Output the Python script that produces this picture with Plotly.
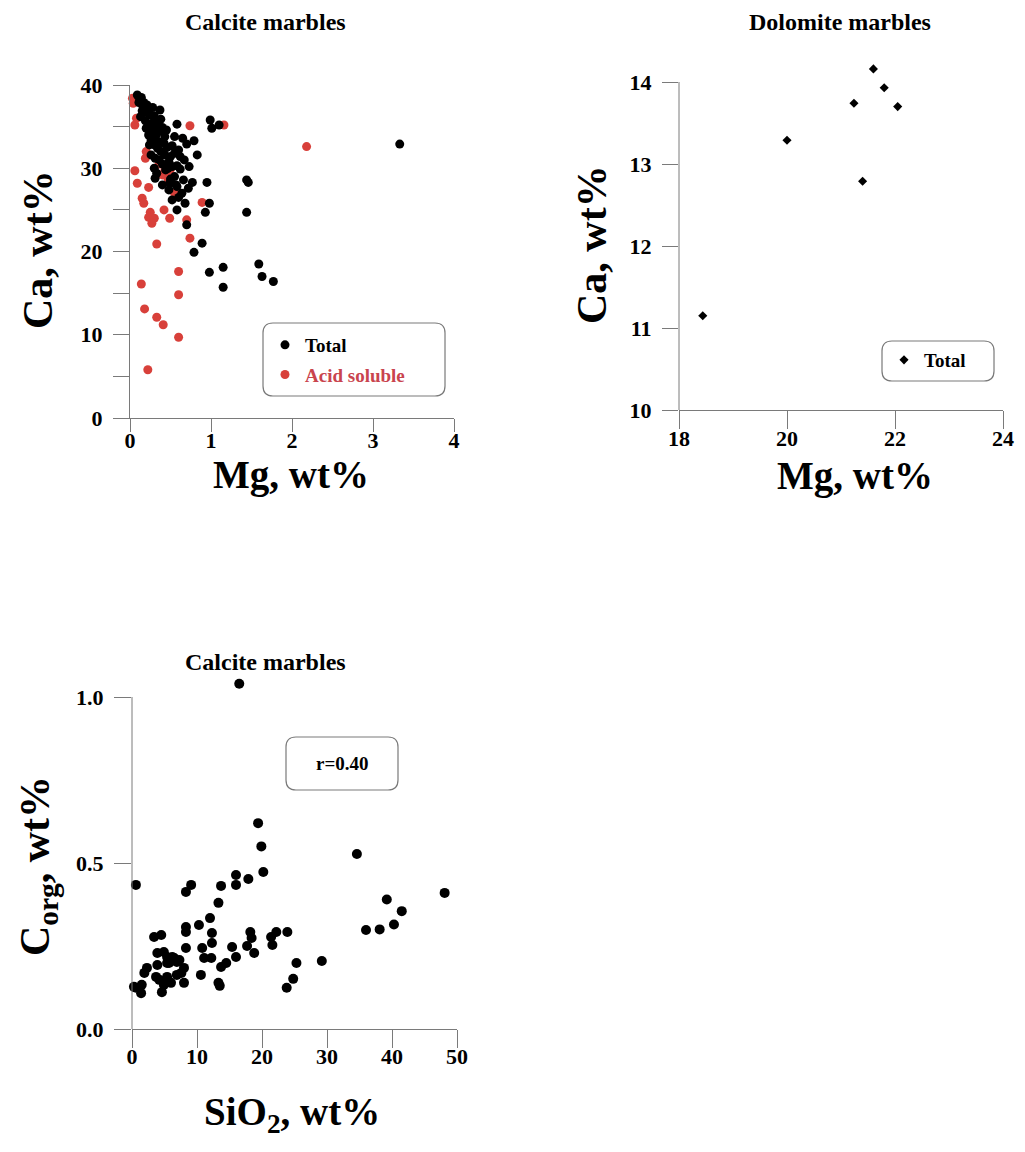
import plotly.graph_objects as go

W, H = 1025, 1152

# ---------------- data ----------------
calcite_total_mg = [0.09, 0.12, 0.14, 0.17, 0.21, 0.24, 0.37, 0.15, 0.20, 0.25, 0.30, 0.19, 0.30, 0.26, 0.35,
                    0.33, 0.58, 0.99, 1.01, 1.10, 0.36, 0.43, 0.23, 0.28, 0.40, 0.30, 0.35, 0.26, 0.79, 0.52,
                    0.46, 0.60, 0.83, 0.31, 0.43, 0.38, 0.50, 0.55, 0.67, 0.30, 0.73, 0.40, 0.48, 0.58, 0.62,
                    0.33, 0.55, 0.50, 0.31, 0.49, 0.77, 0.95, 0.64, 0.48, 0.58, 0.68, 0.52, 0.60, 0.98, 0.93,
                    0.70, 0.89, 0.79, 1.44, 1.46, 1.44, 0.98, 1.15, 1.15, 1.59, 1.63, 1.77, 3.33, 0.22, 0.27,
                    0.32, 0.45, 0.42, 0.36, 0.26, 0.44, 0.62, 0.70, 0.55, 0.38, 0.28, 0.16, 0.11, 0.47, 0.66,
                    0.58, 0.40, 0.72, 0.20, 0.13, 0.34, 0.52, 0.65, 0.24, 0.57]
calcite_total_ca = [38.8, 38.2, 38.5, 37.9, 37.6, 37.2, 37.0, 36.9, 36.7, 36.4, 36.3, 35.7, 35.7, 35.3, 35.6,
                    35.0, 35.3, 35.8, 34.8, 35.2, 34.4, 33.8, 34.0, 34.5, 34.9, 32.8, 33.2, 33.4, 33.3, 32.7,
                    32.5, 32.2, 31.6, 31.2, 31.6, 32.0, 31.4, 31.8, 31.0, 30.0, 30.2, 30.5, 30.8, 30.3, 29.9,
                    29.4, 29.0, 28.7, 28.8, 28.2, 28.3, 28.3, 27.0, 27.4, 27.8, 25.8, 26.2, 26.5, 25.8, 24.7,
                    23.2, 21.0, 19.9, 28.6, 28.3, 24.7, 17.5, 18.1, 15.7, 18.5, 17.0, 16.4, 32.9, 35.0, 34.0,
                    34.0, 34.6, 33.0, 31.0, 31.6, 29.8, 31.4, 32.9, 33.8, 35.9, 37.3, 37.4, 37.9, 30.0, 28.6,
                    25.0, 28.0, 27.6, 34.8, 36.2, 32.4, 30.2, 33.6, 32.8, 28.0]

calcite_acid_mg = [0.03, 0.04, 0.06, 0.08, 0.74, 1.16, 0.19, 0.06, 0.43, 0.46, 0.50, 0.40, 0.47, 0.36, 0.09,
                   0.23, 0.55, 0.15, 0.17, 0.25, 0.23, 0.30, 0.27, 0.42, 0.49, 0.74, 0.33, 0.70, 0.89, 0.60,
                   0.14, 0.60, 0.18, 0.33, 0.41, 0.60, 0.22, 2.18, 0.20]
calcite_acid_ca = [38.4, 37.8, 35.2, 36.0, 35.1, 35.2, 31.2, 29.7, 29.7, 29.4, 29.9, 29.2, 28.7, 30.5, 28.2,
                   27.7, 27.0, 26.4, 25.8, 24.7, 24.1, 24.0, 23.4, 25.0, 24.0, 21.6, 20.9, 23.8, 25.9, 17.6,
                   16.1, 14.8, 13.1, 12.1, 11.2, 9.7, 5.8, 32.6, 32.0]

dolomite_mg = [18.44, 20.0, 21.24, 21.4, 21.6, 21.8, 22.05]
dolomite_ca = [11.15, 13.29, 13.74, 12.79, 14.16, 13.93, 13.70]

sio2 = [16.5, 19.4, 19.9, 34.6, 20.2, 16.0, 17.9, 16.0, 13.7, 0.6, 9.1, 8.3, 48.1, 39.2, 13.3, 41.5, 12.0,
        40.3, 10.3, 8.3, 38.1, 36.0, 8.3, 12.3, 18.2, 22.2, 23.9, 18.4, 21.4, 4.5, 3.4, 12.3, 21.6, 17.7,
        15.4, 10.8, 8.3, 3.9, 4.9, 18.8, 6.2, 5.4, 16.0, 11.1, 12.2, 6.9, 7.3, 29.2, 5.4, 3.9, 14.5, 25.3,
        13.7, 2.3, 8.0, 1.9, 6.9, 10.6, 5.4, 4.2, 24.8, 4.9, 6.0, 8.0, 13.3, 13.5, 1.5, 0.3, 0.6, 23.8,
        4.6, 1.4, 7.6, 3.7, 5.7, 6.5]
corg = [1.04, 0.62, 0.55, 0.527, 0.473, 0.464, 0.452, 0.434, 0.431, 0.434, 0.434, 0.413, 0.41, 0.39, 0.38,
        0.355, 0.334, 0.315, 0.313, 0.307, 0.30, 0.298, 0.292, 0.289, 0.292, 0.292, 0.292, 0.274, 0.277,
        0.283, 0.277, 0.259, 0.253, 0.250, 0.247, 0.244, 0.244, 0.229, 0.232, 0.229, 0.217, 0.217, 0.217,
        0.214, 0.214, 0.202, 0.208, 0.205, 0.199, 0.193, 0.199, 0.199, 0.187, 0.184, 0.184, 0.169, 0.163,
        0.163, 0.157, 0.148, 0.151, 0.133, 0.139, 0.139, 0.139, 0.130, 0.133, 0.127, 0.124, 0.124, 0.111,
        0.108, 0.169, 0.157, 0.199, 0.214]

# axis extents (spine ends) and the extra headroom above them
ca_axis = [0, 40]
dol_ca_axis = [10, 14]
dol_ca_top = 14.3
corg_axis = [0, 1.0]
corg_top = 1.1

# ---------------- helpers ----------------
def px(x):
    return x / W

def py(y):
    return 1 - y / H

FONT = "Liberation Serif, Times New Roman, serif"
RED = "#d8403a"
AXC = "#7a7a7a"

fig = go.Figure()

fig.add_trace(go.Scatter(x=calcite_acid_mg, y=calcite_acid_ca, mode="markers",
                         name="<span style='color:#c9444e'>Acid soluble</span>",
                         marker=dict(color=RED, size=9), cliponaxis=False,
                         xaxis="x", yaxis="y", legend="legend", legendrank=2, legendgroup="a"))
fig.add_trace(go.Scatter(x=calcite_total_mg, y=calcite_total_ca, mode="markers", name="Total",
                         marker=dict(color="black", size=9), cliponaxis=False,
                         xaxis="x", yaxis="y", legend="legend", legendrank=1, legendgroup="b"))
fig.add_trace(go.Scatter(x=dolomite_mg, y=dolomite_ca, mode="markers", name="Total",
                         marker=dict(color="black", size=7, symbol="diamond"), cliponaxis=False,
                         xaxis="x2", yaxis="y2", legend="legend2"))
fig.add_trace(go.Scatter(x=sio2, y=corg, mode="markers", name="Corg", showlegend=False,
                         marker=dict(color="black", size=10), cliponaxis=False,
                         xaxis="x3", yaxis="y3"))

tickfont = dict(family=FONT, size=22, color="black", weight="bold")

def ax(**kw):
    d = dict(showline=True, linecolor=AXC, linewidth=1, ticks="outside", tickcolor=AXC,
             tickwidth=1, showgrid=False, zeroline=False, tickfont=tickfont, fixedrange=True,
             automargin=False)
    d.update(kw)
    return d

# pixel positions of the y-axis tops including headroom
dol_top_px = 410 - (dol_ca_top - 10) * (410 - 82) / 4
corg_top_px = 1029 - corg_top * (1029 - 697) / 1.0

fig.update_layout(
    width=W, height=H, margin=dict(l=0, r=0, t=0, b=0, pad=0, autoexpand=False),
    paper_bgcolor="white", plot_bgcolor="white",
    font=dict(family=FONT, color="black"),
    xaxis=ax(domain=[px(130), px(454)], range=[0, 4], dtick=1, ticklen=13, anchor="y",
             ticklabelstandoff=-10),
    yaxis=ax(domain=[py(418), py(85)], range=ca_axis, dtick=10, ticklen=16, anchor="x",
             ticklabelstandoff=6,
             minor=dict(dtick=5, ticks="outside", ticklen=16, tickcolor=AXC, showgrid=False)),
    xaxis2=ax(domain=[px(679), px(1003)], range=[18, 24], dtick=2, ticklen=18, anchor="y2",
              ticklabelstandoff=-9),
    yaxis2=ax(domain=[py(410), py(dol_top_px)], range=[dol_ca_axis[0], dol_ca_top], dtick=1,
              ticklen=16, anchor="x2", ticklabelstandoff=6, showline=False),
    xaxis3=ax(domain=[px(132), px(457)], range=[0, 50], dtick=10, ticklen=18, anchor="y3",
              ticklabelstandoff=-10),
    yaxis3=ax(domain=[py(1029), py(corg_top_px)], range=[corg_axis[0], corg_top], dtick=0.5,
              tickformat=".1f", ticklen=17, anchor="x3", ticklabelstandoff=6, showline=False),
    legend=dict(x=px(265), y=py(326), xanchor="left", yanchor="top", bgcolor="rgba(0,0,0,0)",
                borderwidth=0, font=dict(family=FONT, size=19, color="black", weight="bold"),
                traceorder="grouped", tracegroupgap=2),
    legend2=dict(x=px(884), y=py(341), xanchor="left", yanchor="top", bgcolor="rgba(0,0,0,0)",
                 borderwidth=0, font=dict(family=FONT, size=19, color="black", weight="bold")),
    showlegend=True,
)

# y-axis spines that stop at the last tick
fig.add_shape(type="line", xref="x2 domain", yref="y2", x0=0, x1=0,
              y0=dol_ca_axis[0], y1=dol_ca_axis[1], line=dict(color=AXC, width=1))
fig.add_shape(type="line", xref="x3 domain", yref="y3", x0=0, x1=0,
              y0=corg_axis[0], y1=corg_axis[1], line=dict(color=AXC, width=1))

def rrect(x0, y0, x1, y1, r):
    pts = [("M", x0 + r, y0), ("L", x1 - r, y0), ("Q", x1, y0, x1, y0 + r), ("L", x1, y1 - r),
           ("Q", x1, y1, x1 - r, y1), ("L", x0 + r, y1), ("Q", x0, y1, x0, y1 - r),
           ("L", x0, y0 + r), ("Q", x0, y0, x0 + r, y0)]
    s = ""
    for p in pts:
        cmd = p[0]
        coords = p[1:]
        parts = []
        for i in range(0, len(coords), 2):
            parts.append(f"{px(coords[i]):.5f},{py(coords[i + 1]):.5f}")
        s += cmd + " " + " ".join(parts) + " "
    return s + "Z"

for box in [(263, 323, 445, 396), (882, 341, 994, 381), (286, 737, 398, 790)]:
    fig.add_shape(type="path", xref="paper", yref="paper", path=rrect(*box, 10),
                  line=dict(color=AXC, width=1.2), fillcolor="rgba(0,0,0,0)")

def text(x, y, s, size, angle=0):
    fig.add_annotation(x=px(x), y=py(y), xref="paper", yref="paper", text=s, showarrow=False,
                       textangle=angle, xanchor="center", yanchor="middle",
                       font=dict(family=FONT, size=size, color="black", weight="bold"))

text(265, 22, "Calcite marbles", 24)
text(840, 22, "Dolomite marbles", 24)
text(265, 662, "Calcite marbles", 24)
text(342, 763, "r=0.40", 19)

text(38, 250, "Ca, wt%", 42, -90)
text(592, 245, "Ca, wt%", 42, -90)
text(38, 866, "C<sub>org</sub>, wt%", 42, -90)

text(291, 475, "Mg, wt%", 39)
text(855, 476, "Mg, wt%", 39)
text(292, 1114, "SiO<sub>2</sub>, wt%", 39)

fig.write_html("out.html", config={"displayModeBar": False},
               post_script="document.body.style.margin='0';document.body.style.overflow='hidden';")
